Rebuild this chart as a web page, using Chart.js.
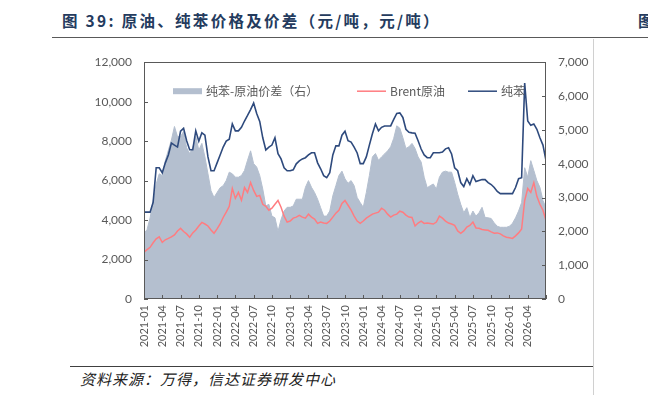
<!DOCTYPE html>
<html>
<head>
<meta charset="utf-8">
<script src="https://cdn.jsdelivr.net/npm/chart.js@4"></script>
<style>
    body { margin: 0; width: 648px; height: 395px; background: #fff; position: relative; overflow: hidden; font-family: "Noto Sans CJK SC", sans-serif; }
    .title { position: absolute; left: 62px; top: 9px; font-size: 15.5px; font-weight: bold; color: #243b5e; white-space: nowrap; letter-spacing: 2.3px; }
    .title-next { position: absolute; left: 638px; top: 9px; font-size: 15.5px; font-weight: bold; color: #243b5e; }
    .rule-top { position: absolute; left: 52px; top: 37px; width: 596px; height: 0; border-top: 1.5px solid #595959; }
    .divider { position: absolute; left: 593px; top: 39px; width: 0; height: 356px; border-left: 1px solid #d0d0d0; }
    .rule-bottom { position: absolute; left: 70px; top: 366px; width: 523px; height: 0; border-top: 1px solid #404040; }
    .source { position: absolute; left: 80px; top: 368px; font-size: 15px; font-style: italic; color: #222; white-space: nowrap; letter-spacing: 1px; }
    .chart-box { position: absolute; left: 90px; top: 43px; width: 510px; height: 312px; }
</style>
</head>
<body>
<div class="title">图 39: 原油、纯苯价格及价差（元/吨，元/吨）</div>
<div class="title-next">图</div>
<div class="rule-top"></div>
<div class="divider"></div>
<div class="chart-box"><canvas id="spreadChart"></canvas></div>
<div class="rule-bottom"></div>
<div class="source">资料来源：万得，信达证券研发中心</div>

<script>
// Eje X: medio mes por punto, desde 2021-01
const tickLabels = [
    '2021-01', '2021-04', '2021-07', '2021-10', '2022-01', '2022-04', '2022-07', '2022-10',
    '2023-01', '2023-04', '2023-07', '2023-10', '2024-01', '2024-04', '2024-07', '2024-10',
    '2025-01', '2025-04', '2025-07', '2025-10', '2026-01', '2026-04'
];

// 纯苯 (元/吨, eje izquierdo)
const benzene = [
    4400, 4400, 4400, 4900, 6650, 6650, 6400, 6900, 7300, 7900,
    7800, 7700, 8500, 8650, 8020, 7560, 7560, 8520, 8000, 8420,
    8300, 7200, 6500, 6500, 6900, 7300, 7700, 8000, 8100, 8870,
    8520, 8520, 8700, 9020, 9300, 9600, 9930, 9400, 9000, 8170,
    7550, 7700, 7800, 8170, 7360, 7100, 6650, 6500, 6500, 6550,
    6850, 7000, 7100, 7160, 7300, 7410, 7410, 6900, 6600, 6250,
    6150, 6400, 7300, 7760, 7760, 8300, 8500, 8020, 7950, 7700,
    7400, 6860, 6860, 7200, 7800, 8370, 8870, 8520, 8700, 8770,
    8770, 8770, 9100, 9400, 9430, 9200, 8600, 8450, 8420, 8400,
    8020, 7600, 7300, 7160, 7160, 7410, 7410, 7410, 7450, 7610,
    7660, 7350, 6650, 6500, 5900, 5700, 6100, 5800, 6250, 5950,
    6000, 6050, 6050, 5900, 5800, 5650, 5450, 5340, 5340, 5340,
    5340, 5340, 5650, 6100, 6150, 10940, 9020, 8800, 8870, 8600,
    8170, 7800, 7010
];

// Brent原油 (元/吨, eje izquierdo)
const brent = [
    2370, 2500, 2620, 2850, 3050, 3150, 2870, 3000, 3070, 3150,
    3250, 3450, 3580, 3420, 3300, 3130, 3350, 3500, 3700, 3880,
    3800, 3700, 3500, 3330, 3550, 3800, 4130, 4400, 4700, 5600,
    5100, 5400, 5000, 5650, 5400, 5900, 5500, 5200, 5250, 4800,
    4700, 4500, 4600, 4800, 4990, 4650, 4200, 3900, 3950, 4100,
    4150, 4240, 4150, 4100, 4300, 4150, 4050, 3830, 3900, 3850,
    3830, 3950, 4150, 4350, 4490, 4840, 4990, 4750, 4500, 4200,
    3950, 3830, 3950, 4100, 4200, 4300, 4350, 4400, 4600, 4500,
    4300, 4150, 4250, 4300, 4450, 4400, 4250, 4150, 4130, 3700,
    3850, 3950, 3830, 3850, 3830, 3800, 3900, 4200, 4100, 3950,
    3850, 3800, 3730, 3450, 3330, 3450, 3650, 3730, 3900, 3600,
    3580, 3520, 3500, 3480, 3400, 3330, 3350, 3300, 3200, 3130,
    3100, 3070, 3200, 3350, 3550, 4990, 5600, 5400, 5900, 5200,
    4800, 4500, 3980
];

// 纯苯-原油价差 (元/吨, eje derecho)
const spread = [
    1940, 2050, 2400, 2900, 3400, 3700, 3650, 4090, 4400, 4700,
    5100, 4800, 4800, 4950, 4470, 4300, 4470, 4800, 4400, 4600,
    4200, 3700, 3200, 3000, 3150, 3290, 3350, 3500, 3750, 3700,
    3600, 3600, 3650, 3800, 4100, 4380, 4000, 3900, 3650, 3250,
    2750, 2800, 2450, 2400, 2000, 2350, 2600, 2710, 2710, 2750,
    2950, 2950, 2950, 3300, 3500, 3300, 3150, 2950, 2700, 2450,
    2450, 2600, 3050, 3350, 3650, 3780, 3550, 3420, 3500, 3350,
    3000, 2850, 2710, 3150, 3650, 4200, 4300, 4100, 4200, 4290,
    4380, 4500, 4750, 5120, 5050, 4770, 4450, 4500, 4600, 4450,
    4200, 4050, 3600, 3290, 3350, 3400, 3250, 3600, 3750, 3780,
    3750, 3750, 3450, 3100, 2800, 2550, 2700, 2410, 2600, 2450,
    2550, 2710, 2410, 2400, 2380, 2250, 2150, 2120, 2120, 2120,
    2150, 2240, 2400, 2600, 2850, 3880, 3600, 4090, 3800, 3500,
    3300, 2910, 2700
];

const colors = {
    spread: '#b4bfcf',
    brent: '#ff7c80',
    benzene: '#2e4a7d',
    axis: '#595959'
};

const tickFont = { family: 'Lato, "Noto Sans CJK SC", sans-serif', size: 12 };

/**
 * Convierte una serie a puntos {x, y}; x en meses desde 2021-01
 */
function toPoints(values) {
    return values.map((v, i) => ({ x: i / 2, y: v }));
}

/**
 * Marco del área de gráfico con marcas hacia dentro
 */
const frameTicks = {
    id: 'frameTicks',
    afterDatasetsDraw(chart) {
        const { ctx, chartArea: a, scales } = chart;
        ctx.save();
        ctx.strokeStyle = colors.axis;
        ctx.lineWidth = 1;
        ctx.strokeRect(Math.round(a.left) + 0.5, Math.round(a.top) + 0.5,
            Math.round(a.width) - 1, Math.round(a.height) - 1);

        ctx.beginPath();
        scales.y.ticks.forEach(t => {
            const py = Math.round(scales.y.getPixelForValue(t.value)) + 0.5;
            ctx.moveTo(a.left, py);
            ctx.lineTo(a.left + 4, py);
        });
        scales.y1.ticks.forEach(t => {
            const py = Math.round(scales.y1.getPixelForValue(t.value)) + 0.5;
            ctx.moveTo(a.right, py);
            ctx.lineTo(a.right - 4, py);
        });
        scales.x.ticks.forEach(t => {
            const px = Math.round(scales.x.getPixelForValue(t.value)) + 0.5;
            ctx.moveTo(px, a.bottom);
            ctx.lineTo(px, a.bottom - 4);
        });
        ctx.stroke();
        ctx.restore();
    }
};

/**
 * Leyenda dentro del área de gráfico
 */
const innerLegend = {
    id: 'innerLegend',
    afterDraw(chart) {
        const { ctx, chartArea: a } = chart;
        const cy = a.top + 29;
        const items = [
            { label: '纯苯-原油价差（右）', color: colors.spread, box: true, x: 29 },
            { label: 'Brent原油', color: colors.brent, box: false, x: 213 },
            { label: '纯苯', color: colors.benzene, box: false, x: 324 }
        ];
        ctx.save();
        ctx.font = '12px "Noto Sans CJK SC", sans-serif';
        ctx.textBaseline = 'middle';
        items.forEach(item => {
            const x0 = a.left + item.x;
            if (item.box) {
                ctx.fillStyle = item.color;
                ctx.fillRect(x0, cy - 3, 29, 6);
            } else {
                ctx.strokeStyle = item.color;
                ctx.lineWidth = 1.5;
                ctx.beginPath();
                ctx.moveTo(x0, cy);
                ctx.lineTo(x0 + 29, cy);
                ctx.stroke();
            }
            ctx.fillStyle = colors.axis;
            ctx.fillText(item.label, x0 + 33, cy);
        });
        ctx.restore();
    }
};

const ctx = document.getElementById('spreadChart');

window.spreadChartInstance = new Chart(ctx, {
    type: 'line',
    data: {
        datasets: [
            {
                label: '纯苯',
                data: toPoints(benzene),
                borderColor: colors.benzene,
                borderWidth: 1.6,
                pointRadius: 0,
                yAxisID: 'y',
                order: 0
            },
            {
                label: 'Brent原油',
                data: toPoints(brent),
                borderColor: colors.brent,
                borderWidth: 1.5,
                pointRadius: 0,
                yAxisID: 'y',
                order: 1
            },
            {
                label: '纯苯-原油价差（右）',
                data: toPoints(spread),
                borderColor: colors.spread,
                backgroundColor: colors.spread,
                borderWidth: 1,
                pointRadius: 0,
                fill: 'origin',
                yAxisID: 'y1',
                order: 2
            }
        ]
    },
    options: {
        responsive: true,
        maintainAspectRatio: false,
        animation: false,
        layout: { padding: { top: 4 } },
        plugins: {
            legend: { display: false },
            tooltip: { enabled: false }
        },
        scales: {
            x: {
                type: 'linear',
                min: 0,
                max: 66,
                grid: { display: false, drawTicks: false },
                border: { display: false },
                afterFit: scale => { scale.height = 56; },
                ticks: {
                    stepSize: 3,
                    autoSkip: false,
                    minRotation: 90,
                    maxRotation: 90,
                    padding: 6,
                    color: colors.axis,
                    font: { family: tickFont.family, size: 11 },
                    callback: value => tickLabels[value / 3] || ''
                }
            },
            y: {
                position: 'left',
                min: 0,
                max: 12000,
                grid: { display: false, drawTicks: false },
                border: { display: false },
                afterFit: scale => { scale.width = 54; },
                ticks: {
                    stepSize: 2000,
                    padding: 12,
                    color: colors.axis,
                    font: tickFont,
                    callback: value => value.toLocaleString('en-US')
                }
            },
            y1: {
                position: 'right',
                min: 0,
                max: 7000,
                grid: { display: false, drawTicks: false },
                border: { display: false },
                afterFit: scale => { scale.width = 54; },
                ticks: {
                    stepSize: 1000,
                    padding: 12,
                    color: colors.axis,
                    font: tickFont,
                    callback: value => value.toLocaleString('en-US')
                }
            }
        }
    },
    plugins: [frameTicks, innerLegend]
});
</script>
</body>
</html>
